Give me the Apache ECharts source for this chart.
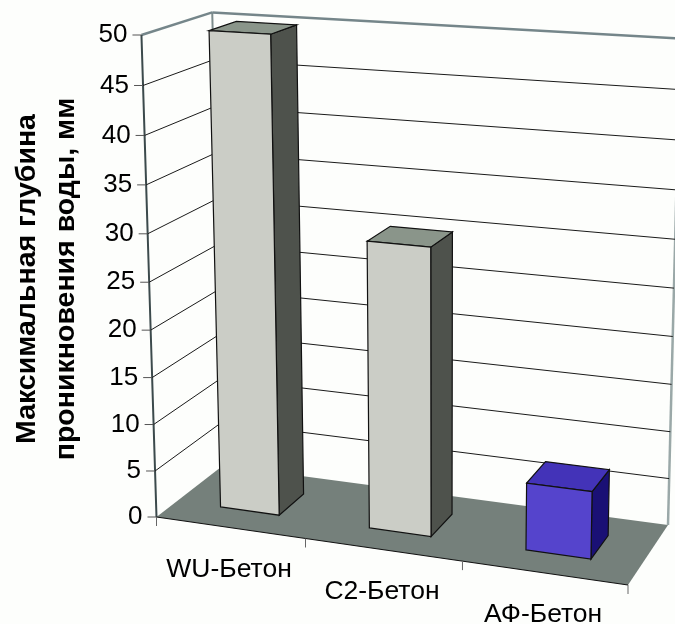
<!DOCTYPE html>
<html>
<head>
<meta charset="utf-8">
<style>
  html, body { margin: 0; padding: 0; background: #fdfefc; }
  #chart { width: 675px; height: 624px; }
</style>
</head>
<body>
<div id="chart"></div>
<script src="https://cdn.jsdelivr.net/npm/echarts@6/dist/echarts.min.js"></script>
<script>
// данные
const categories = ['WU-Бетон', 'C2-Бетон', 'АФ-Бетон'];
const depthValues = [50, 30, 7];
const yTicks = [0, 5, 10, 15, 20, 25, 30, 35, 40, 45, 50];
const xEdges = [0, 1, 2, 3];
const yTitle = 'Максимальная глубина\nпроникновения воды, мм';

const barColors = [
  { front: '#cbcdc6', side: '#4e524c', top: '#8a958a' },
  { front: '#cbcdc6', side: '#4e524c', top: '#8a958a' },
  { front: '#5544cc', side: '#1a1075', top: '#4333b8' }
];

// углы куба графика на экране (калибровка камеры)
const cornerA = [156.5, 517, 1];   // перед-низ-лево
const cornerB = [628, 585, 1];     // перед-низ-право
const cornerC = [223, 465.5, 1];   // зад-низ-лево
const cornerD = [668, 525, 1];     // зад-низ-право
const verticalVP = [440, 9600, 1]; // точка схода вертикалей
const frontTopY = 35;              // высота значения 50 на передней оси

function det3(a, b, c) {
  return a[0] * (b[1] * c[2] - b[2] * c[1])
    - b[0] * (a[1] * c[2] - a[2] * c[1])
    + c[0] * (a[1] * b[2] - a[2] * b[1]);
}

function buildProjection() {
  const minusA = cornerA.map((n) => -n);
  const dd = det3(cornerB, cornerC, minusA);
  const b = det3(cornerD, cornerC, minusA) / dd;
  const c = det3(cornerB, cornerD, minusA) / dd;
  const a = det3(cornerB, cornerC, cornerD) / dd;
  const h4 = cornerA.map((n) => a * n);
  const h1 = cornerB.map((n, i) => b * n - h4[i]);
  const h2 = cornerC.map((n, i) => c * n - h4[i]);
  const s = (h4[1] - frontTopY * h4[2]) / (frontTopY * verticalVP[2] - verticalVP[1]);
  const h3 = verticalVP.map((n) => s * n);
  return function (u, v, w) {
    const p = [0, 1, 2].map((i) => h1[i] * u + h2[i] * v + h3[i] * w + h4[i]);
    return [p[0] / p[2], p[1] / p[2]];
  };
}

const project = buildProjection();
const FONT = '"Liberation Sans", Arial, sans-serif';

// перевод координат сетки echarts в доли куба
function toUnit(params, point) {
  const cs = params.coordSys;
  return [(point[0] - cs.x) / cs.width, (cs.y + cs.height - point[1]) / cs.height];
}

function poly(points, fill, stroke, lineWidth) {
  return {
    type: 'polygon',
    shape: { points: points },
    style: { fill: fill, stroke: stroke || null, lineWidth: lineWidth || 0 }
  };
}

function line(p1, p2, color, width) {
  return {
    type: 'line',
    shape: { x1: p1[0], y1: p1[1], x2: p2[0], y2: p2[1] },
    style: { stroke: color, lineWidth: width }
  };
}

function renderFloor() {
  return {
    type: 'group',
    children: [
      poly([project(0, 0, 0), project(1, 0, 0), project(1, 1, 0), project(0, 1, 0)], '#75807b'),
      line(project(0, 1, 0), project(0, 1, 1), '#7d8c8c', 2),
      line(project(1, 1, 0), project(1, 1, 1), '#9aa8a8', 2.5),
      line(project(0, 0, 1), project(0, 1, 1), '#75868a', 2.5),
      line(project(0, 1, 1), project(1, 1, 1), '#75868a', 2.5),
      line(project(0, 0, 0), project(0, 0, 1), '#3c4a4c', 2),
      line(project(0, 0, 0), project(1, 0, 0), '#111', 1.2)
    ]
  };
}

function renderGridTick(params, api) {
  const value = api.value(0);
  const w = toUnit(params, api.coord([0, value]))[1];
  const front = project(0, 0, w);
  const children = [
    line([front[0] - 9, front[1]], front, '#555', 1),
    {
      type: 'text',
      style: {
        x: front[0] - 14, y: front[1],
        text: String(value),
        fill: '#000', font: '26px ' + FONT,
        align: 'right', verticalAlign: 'middle'
      }
    }
  ];
  if (value > 0 && value < 50) {
    children.push(line(front, project(0, 1, w), '#1a1a1a', 1));
    children.push(line(project(0, 1, w), project(1, 1, w), '#1a1a1a', 1));
  }
  return { type: 'group', children: children };
}

function renderXEdge(params, api) {
  const u = api.value(0) / categories.length;
  const p = project(u, 0, 0);
  return line(p, [p[0], p[1] + 9], '#666', 1);
}

function renderBar(params, api) {
  const idx = api.value(0);
  const c = toUnit(params, api.coord([idx, api.value(1)]));
  const bandU = api.size([1, 0])[0] / params.coordSys.width;
  const u0 = c[0] - bandU * 0.2;
  const u1 = c[0] + bandU * 0.2;
  const v0 = 0.3, v1 = 0.7;
  const w = c[1];
  const col = barColors[idx];
  const edge = '#111';
  return {
    type: 'group',
    children: [
      poly([project(u1, v0, 0), project(u1, v1, 0), project(u1, v1, w), project(u1, v0, w)], col.side, edge, 1.2),
      poly([project(u0, v0, w), project(u1, v0, w), project(u1, v1, w), project(u0, v1, w)], col.top, edge, 1.2),
      poly([project(u0, v0, 0), project(u1, v0, 0), project(u1, v0, w), project(u0, v0, w)], col.front, edge, 1.2)
    ]
  };
}

function renderCategory(params, api) {
  const idx = api.value(0);
  const u = toUnit(params, api.coord([idx, 0]))[0];
  const p = project(u, 0, 0);
  return {
    type: 'text',
    style: {
      x: p[0] - 1, y: p[1] + 42,
      text: categories[idx],
      fill: '#000', font: '26.5px ' + FONT,
      align: 'center', verticalAlign: 'middle'
    }
  };
}

const myChart = echarts.init(document.getElementById('chart'));

myChart.setOption({
  backgroundColor: '#fdfefc',
  animation: false,
  grid: { left: 140, top: 39, width: 490, height: 480 },
  xAxis: { type: 'category', data: categories, show: false },
  yAxis: {
    type: 'value',
    min: 0,
    max: 50,
    interval: 5,
    name: yTitle,
    nameLocation: 'middle',
    nameRotate: 90,
    nameGap: 106,
    nameTextStyle: { color: '#000', fontSize: 28.5, fontWeight: 'bold', fontFamily: FONT, lineHeight: 39 },
    axisLine: { show: false },
    axisTick: { show: false },
    axisLabel: { show: false },
    splitLine: { show: false }
  },
  series: [
    { type: 'custom', name: 'floor', renderItem: renderFloor, data: [[0, 0]], silent: true },
    { type: 'custom', name: 'grid', renderItem: renderGridTick, encode: { x: -1, y: 0 }, data: yTicks.map((t) => [t]), silent: true },
    { type: 'custom', name: 'edges', renderItem: renderXEdge, encode: { x: -1, y: -1 }, data: xEdges.map((e) => [e]), silent: true },
    {
      type: 'custom',
      name: 'bars',
      renderItem: renderBar,
      encode: { x: 0, y: 1 },
      data: depthValues.map((v, i) => [i, v])
    },
    { type: 'custom', name: 'labels', renderItem: renderCategory, encode: { x: 0, y: -1 }, data: categories.map((c, i) => [i]), silent: true }
  ]
});
</script>
</body>
</html>
